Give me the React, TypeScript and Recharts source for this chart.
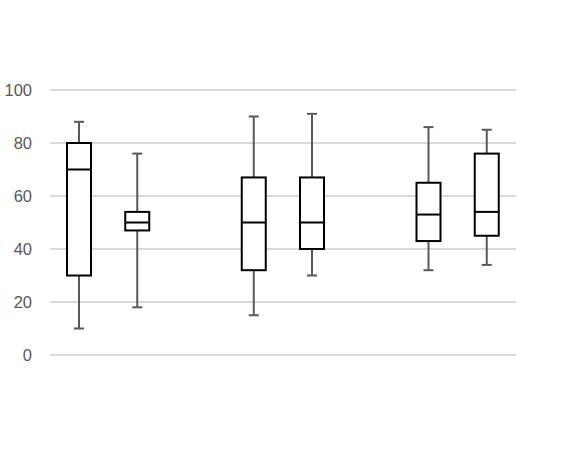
import React from 'react';
import { ComposedChart, Bar, XAxis, YAxis, CartesianGrid } from 'recharts';

// Eight slots: two boxes per group, with an empty slot between the groups
const slots = ['A1', 'A2', 'gap1', 'B1', 'B2', 'gap2', 'C1', 'C2'];
const mins: (number | null)[] = [10, 18, null, 15, 30, null, 32, 34];
const q1s: (number | null)[] = [30, 47, null, 32, 40, null, 43, 45];
const medians: (number | null)[] = [70, 50, null, 50, 50, null, 53, 54];
const q3s: (number | null)[] = [80, 54, null, 67, 67, null, 65, 76];
const maxs: (number | null)[] = [88, 76, null, 90, 91, null, 86, 85];
const yTicks = [0, 20, 40, 60, 80, 100];

const data = slots.map((s, i) => ({
  slot: s,
  min: mins[i],
  q1: q1s[i],
  median: medians[i],
  q3: q3s[i],
  max: maxs[i],
  range: mins[i] == null ? null : [mins[i], maxs[i]],
}));

const BoxShape = (props: any) => {
  const { x, y, width, height, payload } = props;
  if (!payload || payload.min == null) return null;
  const top = Math.min(y, y + height);
  const h = Math.abs(height);
  const span = payload.max - payload.min;
  const ratio = span > 0 ? h / span : 0;
  const yOf = (v: number) => top + (payload.max - v) * ratio;
  const cx = x + width / 2;
  const capHalf = 5;
  return (
    <g>
      <line x1={cx} x2={cx} y1={yOf(payload.max)} y2={yOf(payload.min)} stroke="#595959" strokeWidth={2} />
      <line x1={cx - capHalf} x2={cx + capHalf} y1={yOf(payload.max)} y2={yOf(payload.max)} stroke="#595959" strokeWidth={2} />
      <line x1={cx - capHalf} x2={cx + capHalf} y1={yOf(payload.min)} y2={yOf(payload.min)} stroke="#595959" strokeWidth={2} />
      <rect
        x={x}
        y={yOf(payload.q3)}
        width={width}
        height={yOf(payload.q1) - yOf(payload.q3)}
        fill="#ffffff"
        stroke="#000000"
        strokeWidth={2}
      />
      <line x1={x} x2={x + width} y1={yOf(payload.median)} y2={yOf(payload.median)} stroke="#000000" strokeWidth={2} />
    </g>
  );
};

export default function App() {
  return (
    <div style={{ position: 'absolute', left: 0, top: 0, width: 578, height: 452, background: '#ffffff' }}>
      <ComposedChart
        width={578}
        height={452}
        data={data}
        margin={{ top: 90, right: 62, bottom: 97, left: 0 }}
      >
        <CartesianGrid vertical={false} stroke="#d9d9d9" strokeWidth={2} />
        <XAxis dataKey="slot" hide />
        <YAxis
          domain={[0, 100]}
          ticks={yTicks}
          width={50}
          axisLine={false}
          tickLine={false}
          tickSize={0}
          tickMargin={18}
          tick={{ fill: '#595959', fontSize: 16.5, fontFamily: 'Liberation Sans, Arial, sans-serif' }}
        />
        <Bar dataKey="range" barSize={24} shape={<BoxShape />} isAnimationActive={false} />
      </ComposedChart>
    </div>
  );
}
